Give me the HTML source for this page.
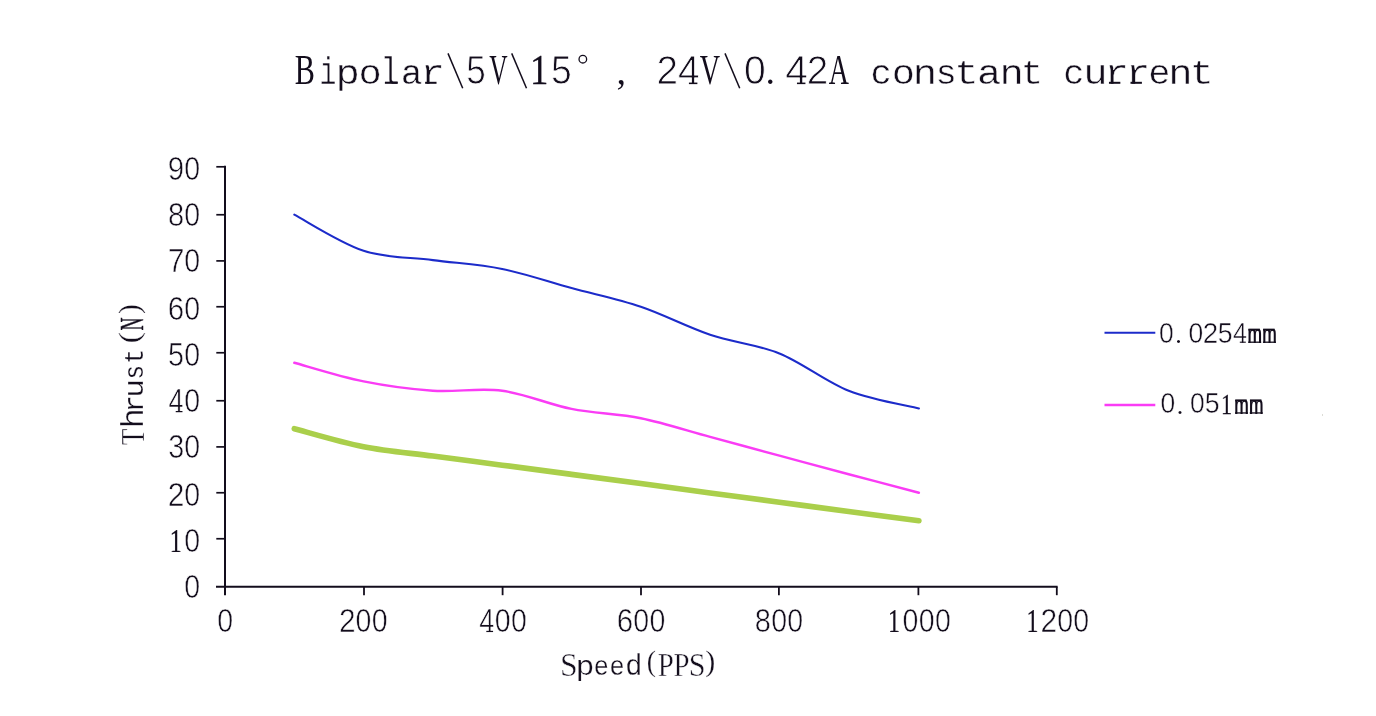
<!DOCTYPE html>
<html><head><meta charset="utf-8"><title>Chart</title>
<style>
html,body{margin:0;padding:0;background:#fff;}
body{width:1376px;height:716px;overflow:hidden;font-family:"Liberation Serif",serif;}
svg{display:block;will-change:transform}
text{fill:#130d1c}
</style></head><body>
<svg width="1376" height="716" viewBox="0 0 1376 716" role="img" aria-label="Thrust (N) versus Speed (PPS) line chart">
<desc>Bipolar\5V\15°, 24V\0.42A constant current. Thrust(N) against Speed(PPS) for lead 0.0254mm, 0.051mm and a third unlabelled series.</desc>
<rect width="1376" height="716" fill="#fff"/>
<g stroke="#130d1c" stroke-width="2" fill="none" stroke-linecap="butt">
<path d="M225.0 165.8V595.3"/>
<path d="M216 586.7H1057.6"/>
<path d="M216.3 538.75H225.0" stroke-width="1.7"/>
<path d="M216.3 492.75H225.0" stroke-width="1.7"/>
<path d="M216.3 446.90H225.0" stroke-width="1.7"/>
<path d="M216.3 400.75H225.0" stroke-width="1.7"/>
<path d="M216.3 352.75H225.0" stroke-width="1.7"/>
<path d="M216.3 306.75H225.0" stroke-width="1.7"/>
<path d="M216.3 260.90H225.0" stroke-width="1.7"/>
<path d="M216.3 214.75H225.0" stroke-width="1.7"/>
<path d="M216.3 166.80H225.0" stroke-width="1.7"/>
<path d="M364.00 586.7V595.2" stroke-width="1.8"/>
<path d="M502.60 586.7V595.2" stroke-width="1.8"/>
<path d="M641.00 586.7V595.2" stroke-width="1.8"/>
<path d="M778.90 586.7V595.2" stroke-width="1.8"/>
<path d="M918.40 586.7V595.2" stroke-width="1.8"/>
<path d="M1056.80 586.7V595.2" stroke-width="1.8"/>
</g>
<path d="M294.30 428.72C305.85 431.73 340.50 442.18 363.60 446.73C386.70 451.29 409.80 452.99 432.90 456.06C456.00 459.14 479.10 462.11 502.20 465.16C525.30 468.21 548.40 471.28 571.50 474.35C594.60 477.42 617.70 480.50 640.80 483.59C663.90 486.69 687.00 489.81 710.10 492.92C733.20 496.03 756.30 499.16 779.40 502.25C802.50 505.35 825.45 508.40 848.70 511.49C871.95 514.58 907.20 519.23 918.90 520.78" fill="none" stroke="#aacf4b" stroke-width="5.6" stroke-linecap="round" stroke-linejoin="round"/>
<path d="M294.30 362.75C305.85 365.86 340.50 376.75 363.60 381.42C386.70 386.08 409.80 389.19 432.90 390.75C456.00 392.30 479.10 387.71 502.20 390.75C525.30 393.78 548.40 404.35 571.50 408.94C594.60 413.53 617.70 413.61 640.80 418.27C663.90 422.94 687.00 430.71 710.10 436.94C733.20 443.16 756.30 449.38 779.40 455.60C802.50 461.82 825.45 468.07 848.70 474.26C871.95 480.45 907.20 489.66 918.90 492.74" fill="none" stroke="#fa3cf5" stroke-width="2.4" stroke-linecap="round" stroke-linejoin="round"/>
<path d="M294.30 214.67C305.85 220.69 340.50 243.21 363.60 250.78C386.70 258.35 409.80 257.08 432.90 260.11C456.00 263.14 479.10 264.31 502.20 268.98C525.30 273.64 548.40 281.81 571.50 288.10C594.60 294.40 617.70 298.99 640.80 306.77C663.90 314.54 687.00 326.98 710.10 334.76C733.20 342.54 756.30 344.09 779.40 353.42C802.50 362.75 825.45 381.57 848.70 390.75C871.95 399.92 907.20 405.52 918.90 408.48" fill="none" stroke="#1c2bca" stroke-width="2.1" stroke-linecap="round" stroke-linejoin="round"/>
<g>
<text transform="translate(304.40,83.80) scale(0.709,1.000)" x="-13.78" y="0" font-family="Liberation Serif" font-size="42.6">B</text>
<text transform="translate(328.32,83.80) scale(0.798,1.090)" x="-10.93" y="0" font-family="Liberation Mono" font-size="35.3" stroke="#fff" stroke-width="0.45">i</text>
<text transform="translate(348.00,83.80) scale(1.150,1.000)" x="-10.94" y="0" font-family="Liberation Mono" font-size="35.3" stroke="#fff" stroke-width="0.45">p</text>
<text transform="translate(370.00,83.80) scale(1.098,1.000)" x="-10.57" y="0" font-family="Liberation Mono" font-size="35.3" stroke="#fff" stroke-width="0.45">o</text>
<text transform="translate(391.15,83.80) scale(0.924,1.090)" x="-11.92" y="0" font-family="Liberation Mono" font-size="35.3" stroke="#fff" stroke-width="0.45">l</text>
<path d="M384.90 82.75H397.40" stroke="#130d1c" stroke-width="2.1" fill="none"/>
<text transform="translate(412.20,83.80) scale(1.027,1.000)" x="-11.10" y="0" font-family="Liberation Mono" font-size="35.3" stroke="#fff" stroke-width="0.45">a</text>
<text transform="translate(433.32,83.80) scale(1.150,1.000)" x="-11.09" y="0" font-family="Liberation Mono" font-size="35.3" stroke="#fff" stroke-width="0.45">r</text>
<path d="M425.12 82.80H436.52" stroke="#130d1c" stroke-width="2.0" fill="none"/>
<path d="M448.00 53.4L462.70 88.2" stroke="#130d1c" stroke-width="1.5" fill="none"/>
<text transform="translate(475.95,83.91) scale(0.855,1.000)" x="-11.37" y="0" font-family="Liberation Sans" font-size="41.03107344632769" stroke="#fff" stroke-width="0.85">5</text>
<text transform="translate(498.50,83.80) scale(0.597,1.000)" x="-15.38" y="0" font-family="Liberation Serif" font-size="42.6">V</text>
<path d="M511.70 53.4L526.50 88.2" stroke="#130d1c" stroke-width="1.5" fill="none"/>
<text transform="translate(539.67,83.90) scale(0.860,1.000)" x="-11.28" y="0" font-family="Liberation Serif" font-size="42.72727272727273" stroke="#130d1c" stroke-width="0.25">1</text>
<text transform="translate(561.25,83.91) scale(0.908,1.000)" x="-11.37" y="0" font-family="Liberation Sans" font-size="41.03107344632769" stroke="#fff" stroke-width="0.85">5</text>
<circle cx="582.83" cy="59.2" r="3.8" stroke="#130d1c" stroke-width="1.3" fill="none"/>
<text transform="translate(620.75,83.60) scale(1.000,1.000)" x="-4.28" y="0" font-family="Liberation Serif" font-size="38.0">,</text>
<text transform="translate(667.17,83.91) scale(0.944,1.000)" x="-11.41" y="0" font-family="Liberation Sans" font-size="41.03107344632769" stroke="#fff" stroke-width="0.85">2</text>
<text transform="translate(688.75,83.91) scale(0.943,1.000)" x="-11.28" y="0" font-family="Liberation Sans" font-size="41.03107344632769" stroke="#fff" stroke-width="0.85">4</text><path d="M688.92 83.35H697.38" stroke="#130d1c" stroke-width="1.55" fill="none"/>
<text transform="translate(709.85,83.80) scale(0.661,1.000)" x="-15.38" y="0" font-family="Liberation Serif" font-size="42.6">V</text>
<path d="M725.00 53.4L739.70 88.2" stroke="#130d1c" stroke-width="1.5" fill="none"/>
<text transform="translate(754.83,83.91) scale(0.951,1.000)" x="-11.41" y="0" font-family="Liberation Sans" font-size="41.03107344632769" stroke="#fff" stroke-width="0.85">0</text>
<text transform="translate(770.25,83.60) scale(1.000,1.000)" x="-4.75" y="0" font-family="Liberation Serif" font-size="38.0">.</text>
<text transform="translate(796.55,83.91) scale(0.994,1.000)" x="-11.28" y="0" font-family="Liberation Sans" font-size="41.03107344632769" stroke="#fff" stroke-width="0.85">4</text><path d="M796.96 83.35H805.42" stroke="#130d1c" stroke-width="1.55" fill="none"/>
<text transform="translate(817.60,83.91) scale(0.942,1.000)" x="-11.41" y="0" font-family="Liberation Sans" font-size="41.03107344632769" stroke="#fff" stroke-width="0.85">2</text>
<text transform="translate(838.75,83.80) scale(0.656,1.000)" x="-15.43" y="0" font-family="Liberation Serif" font-size="42.6">A</text>
<text transform="translate(880.90,83.80) scale(1.005,1.000)" x="-10.43" y="0" font-family="Liberation Mono" font-size="35.3" stroke="#fff" stroke-width="0.45">c</text>
<text transform="translate(903.40,83.80) scale(1.098,1.000)" x="-10.57" y="0" font-family="Liberation Mono" font-size="35.3" stroke="#fff" stroke-width="0.45">o</text>
<text transform="translate(924.95,83.80) scale(1.150,1.000)" x="-10.58" y="0" font-family="Liberation Mono" font-size="35.3" stroke="#fff" stroke-width="0.45">n</text>
<text transform="translate(946.10,83.80) scale(1.004,1.000)" x="-10.57" y="0" font-family="Liberation Mono" font-size="35.3" stroke="#fff" stroke-width="0.45">s</text>
<text transform="translate(966.25,83.80) scale(1.150,1.000)" x="-10.40" y="0" font-family="Liberation Mono" font-size="35.3" stroke="#fff" stroke-width="0.45">t</text>
<text transform="translate(989.75,83.80) scale(1.148,1.000)" x="-11.10" y="0" font-family="Liberation Mono" font-size="35.3" stroke="#fff" stroke-width="0.45">a</text>
<text transform="translate(1011.65,83.80) scale(1.150,1.000)" x="-10.58" y="0" font-family="Liberation Mono" font-size="35.3" stroke="#fff" stroke-width="0.45">n</text>
<text transform="translate(1031.55,83.80) scale(1.050,1.000)" x="-10.40" y="0" font-family="Liberation Mono" font-size="35.3" stroke="#fff" stroke-width="0.45">t</text>
<text transform="translate(1073.55,83.80) scale(0.998,1.000)" x="-10.43" y="0" font-family="Liberation Mono" font-size="35.3" stroke="#fff" stroke-width="0.45">c</text>
<text transform="translate(1095.60,83.80) scale(1.150,1.000)" x="-10.69" y="0" font-family="Liberation Mono" font-size="35.3" stroke="#fff" stroke-width="0.45">u</text>
<text transform="translate(1117.15,83.80) scale(1.150,1.000)" x="-11.09" y="0" font-family="Liberation Mono" font-size="35.3" stroke="#fff" stroke-width="0.45">r</text>
<path d="M1108.95 82.80H1120.35" stroke="#130d1c" stroke-width="2.0" fill="none"/>
<text transform="translate(1138.70,83.80) scale(1.150,1.000)" x="-11.09" y="0" font-family="Liberation Mono" font-size="35.3" stroke="#fff" stroke-width="0.45">r</text>
<path d="M1130.50 82.80H1141.90" stroke="#130d1c" stroke-width="2.0" fill="none"/>
<text transform="translate(1159.35,83.80) scale(1.049,1.000)" x="-10.57" y="0" font-family="Liberation Mono" font-size="35.3" stroke="#fff" stroke-width="0.45">e</text>
<text transform="translate(1180.45,83.80) scale(1.150,1.000)" x="-10.58" y="0" font-family="Liberation Mono" font-size="35.3" stroke="#fff" stroke-width="0.45">n</text>
<text transform="translate(1201.70,83.80) scale(1.116,1.000)" x="-10.40" y="0" font-family="Liberation Mono" font-size="35.3" stroke="#fff" stroke-width="0.45">t</text>
</g>
<g>
<text transform="translate(192.20,597.92) scale(0.874,1.000)" x="-9.07" y="0" font-family="Liberation Sans" font-size="32.6271186440678" stroke="#fff" stroke-width="0.6">0</text>
<text transform="translate(192.20,552.12) scale(0.874,1.000)" x="-9.07" y="0" font-family="Liberation Sans" font-size="32.6271186440678" stroke="#fff" stroke-width="0.6">0</text>
<text transform="translate(176.03,552.15) scale(0.702,1.000)" x="-9.00" y="0" font-family="Liberation Serif" font-size="34.090909090909086" stroke="#130d1c" stroke-width="0.25">1</text>
<text transform="translate(192.20,506.22) scale(0.874,1.000)" x="-9.07" y="0" font-family="Liberation Sans" font-size="32.6271186440678" stroke="#fff" stroke-width="0.6">0</text>
<text transform="translate(176.03,506.22) scale(0.918,1.000)" x="-9.07" y="0" font-family="Liberation Sans" font-size="32.6271186440678" stroke="#fff" stroke-width="0.6">2</text>
<text transform="translate(192.20,458.02) scale(0.874,1.000)" x="-9.07" y="0" font-family="Liberation Sans" font-size="32.6271186440678" stroke="#fff" stroke-width="0.6">0</text>
<text transform="translate(176.03,458.02) scale(0.881,1.000)" x="-8.98" y="0" font-family="Liberation Sans" font-size="32.6271186440678" stroke="#fff" stroke-width="0.6">3</text>
<text transform="translate(192.20,412.12) scale(0.874,1.000)" x="-9.07" y="0" font-family="Liberation Sans" font-size="32.6271186440678" stroke="#fff" stroke-width="0.6">0</text>
<text transform="translate(176.03,412.12) scale(0.827,1.000)" x="-8.97" y="0" font-family="Liberation Sans" font-size="32.6271186440678" stroke="#fff" stroke-width="0.6">4</text><path d="M175.72 411.60H182.47" stroke="#130d1c" stroke-width="1.24" fill="none"/>
<text transform="translate(192.20,366.02) scale(0.874,1.000)" x="-9.07" y="0" font-family="Liberation Sans" font-size="32.6271186440678" stroke="#fff" stroke-width="0.6">0</text>
<text transform="translate(176.03,366.02) scale(0.881,1.000)" x="-9.04" y="0" font-family="Liberation Sans" font-size="32.6271186440678" stroke="#fff" stroke-width="0.6">5</text>
<text transform="translate(192.20,320.12) scale(0.874,1.000)" x="-9.07" y="0" font-family="Liberation Sans" font-size="32.6271186440678" stroke="#fff" stroke-width="0.6">0</text>
<text transform="translate(176.03,320.12) scale(0.906,1.000)" x="-9.18" y="0" font-family="Liberation Sans" font-size="32.6271186440678" stroke="#fff" stroke-width="0.6">6</text>
<text transform="translate(192.20,272.02) scale(0.874,1.000)" x="-9.07" y="0" font-family="Liberation Sans" font-size="32.6271186440678" stroke="#fff" stroke-width="0.6">0</text>
<text transform="translate(176.03,272.02) scale(0.920,1.000)" x="-9.09" y="0" font-family="Liberation Sans" font-size="32.6271186440678" stroke="#fff" stroke-width="0.6">7</text>
<text transform="translate(192.20,226.12) scale(0.874,1.000)" x="-9.07" y="0" font-family="Liberation Sans" font-size="32.6271186440678" stroke="#fff" stroke-width="0.6">0</text>
<text transform="translate(176.03,226.12) scale(0.891,1.000)" x="-9.07" y="0" font-family="Liberation Sans" font-size="32.6271186440678" stroke="#fff" stroke-width="0.6">8</text>
<text transform="translate(192.20,179.72) scale(0.874,1.000)" x="-9.07" y="0" font-family="Liberation Sans" font-size="32.6271186440678" stroke="#fff" stroke-width="0.6">0</text>
<text transform="translate(176.03,179.72) scale(0.905,1.000)" x="-9.06" y="0" font-family="Liberation Sans" font-size="32.6271186440678" stroke="#fff" stroke-width="0.6">9</text>
<text transform="translate(225.20,631.97) scale(0.874,1.000)" x="-9.07" y="0" font-family="Liberation Sans" font-size="32.6271186440678" stroke="#fff" stroke-width="0.6">0</text>
<text transform="translate(347.33,631.97) scale(0.918,1.000)" x="-9.07" y="0" font-family="Liberation Sans" font-size="32.6271186440678" stroke="#fff" stroke-width="0.6">2</text>
<text transform="translate(363.50,631.97) scale(0.874,1.000)" x="-9.07" y="0" font-family="Liberation Sans" font-size="32.6271186440678" stroke="#fff" stroke-width="0.6">0</text>
<text transform="translate(379.67,631.97) scale(0.874,1.000)" x="-9.07" y="0" font-family="Liberation Sans" font-size="32.6271186440678" stroke="#fff" stroke-width="0.6">0</text>
<text transform="translate(486.63,631.97) scale(0.827,1.000)" x="-8.97" y="0" font-family="Liberation Sans" font-size="32.6271186440678" stroke="#fff" stroke-width="0.6">4</text><path d="M486.32 631.45H493.07" stroke="#130d1c" stroke-width="1.24" fill="none"/>
<text transform="translate(502.80,631.97) scale(0.874,1.000)" x="-9.07" y="0" font-family="Liberation Sans" font-size="32.6271186440678" stroke="#fff" stroke-width="0.6">0</text>
<text transform="translate(518.97,631.97) scale(0.874,1.000)" x="-9.07" y="0" font-family="Liberation Sans" font-size="32.6271186440678" stroke="#fff" stroke-width="0.6">0</text>
<text transform="translate(625.03,631.97) scale(0.906,1.000)" x="-9.18" y="0" font-family="Liberation Sans" font-size="32.6271186440678" stroke="#fff" stroke-width="0.6">6</text>
<text transform="translate(641.20,631.97) scale(0.874,1.000)" x="-9.07" y="0" font-family="Liberation Sans" font-size="32.6271186440678" stroke="#fff" stroke-width="0.6">0</text>
<text transform="translate(657.37,631.97) scale(0.874,1.000)" x="-9.07" y="0" font-family="Liberation Sans" font-size="32.6271186440678" stroke="#fff" stroke-width="0.6">0</text>
<text transform="translate(762.93,631.97) scale(0.891,1.000)" x="-9.07" y="0" font-family="Liberation Sans" font-size="32.6271186440678" stroke="#fff" stroke-width="0.6">8</text>
<text transform="translate(779.10,631.97) scale(0.874,1.000)" x="-9.07" y="0" font-family="Liberation Sans" font-size="32.6271186440678" stroke="#fff" stroke-width="0.6">0</text>
<text transform="translate(795.27,631.97) scale(0.874,1.000)" x="-9.07" y="0" font-family="Liberation Sans" font-size="32.6271186440678" stroke="#fff" stroke-width="0.6">0</text>
<text transform="translate(894.35,632.00) scale(0.702,1.000)" x="-9.00" y="0" font-family="Liberation Serif" font-size="34.090909090909086" stroke="#130d1c" stroke-width="0.25">1</text>
<text transform="translate(910.51,631.97) scale(0.874,1.000)" x="-9.07" y="0" font-family="Liberation Sans" font-size="32.6271186440678" stroke="#fff" stroke-width="0.6">0</text>
<text transform="translate(926.69,631.97) scale(0.874,1.000)" x="-9.07" y="0" font-family="Liberation Sans" font-size="32.6271186440678" stroke="#fff" stroke-width="0.6">0</text>
<text transform="translate(942.86,631.97) scale(0.874,1.000)" x="-9.07" y="0" font-family="Liberation Sans" font-size="32.6271186440678" stroke="#fff" stroke-width="0.6">0</text>
<text transform="translate(1032.74,632.00) scale(0.702,1.000)" x="-9.00" y="0" font-family="Liberation Serif" font-size="34.090909090909086" stroke="#130d1c" stroke-width="0.25">1</text>
<text transform="translate(1048.91,631.97) scale(0.918,1.000)" x="-9.07" y="0" font-family="Liberation Sans" font-size="32.6271186440678" stroke="#fff" stroke-width="0.6">2</text>
<text transform="translate(1065.09,631.97) scale(0.874,1.000)" x="-9.07" y="0" font-family="Liberation Sans" font-size="32.6271186440678" stroke="#fff" stroke-width="0.6">0</text>
<text transform="translate(1081.26,631.97) scale(0.874,1.000)" x="-9.07" y="0" font-family="Liberation Sans" font-size="32.6271186440678" stroke="#fff" stroke-width="0.6">0</text>
</g>
<g>
<text transform="translate(568.83,675.60) scale(0.954,1.000)" x="-9.34" y="0" font-family="Liberation Serif" font-size="33.3" stroke="#fff" stroke-width="0.45">S</text>
<text transform="translate(585.38,675.40) scale(1.178,1.000)" x="-8.30" y="0" font-family="Liberation Mono" font-size="26.8" stroke="#fff" stroke-width="0.25">p</text>
<text transform="translate(601.20,675.40) scale(0.941,1.000)" x="-8.03" y="0" font-family="Liberation Mono" font-size="26.8" stroke="#fff" stroke-width="0.25">e</text>
<text transform="translate(617.10,675.40) scale(0.941,1.000)" x="-8.03" y="0" font-family="Liberation Mono" font-size="26.8" stroke="#fff" stroke-width="0.25">e</text>
<text transform="translate(633.50,675.40) scale(1.071,1.100)" x="-7.77" y="0" font-family="Liberation Mono" font-size="26.8" stroke="#fff" stroke-width="0.25">d</text>
<text transform="translate(651.55,670.80) scale(0.919,1.000)" x="-5.21" y="0" font-family="Liberation Serif" font-size="30.2" stroke="#fff" stroke-width="0.25">(</text>
<text transform="translate(665.62,675.60) scale(0.872,1.000)" x="-9.07" y="0" font-family="Liberation Serif" font-size="33.3" stroke="#fff" stroke-width="0.45">P</text>
<text transform="translate(681.25,675.60) scale(0.868,1.000)" x="-9.07" y="0" font-family="Liberation Serif" font-size="33.3" stroke="#fff" stroke-width="0.45">P</text>
<text transform="translate(697.15,675.60) scale(0.907,1.000)" x="-9.34" y="0" font-family="Liberation Serif" font-size="33.3" stroke="#fff" stroke-width="0.45">S</text>
<text transform="translate(710.00,670.80) scale(0.999,1.000)" x="-4.85" y="0" font-family="Liberation Serif" font-size="30.2" stroke="#fff" stroke-width="0.25">)</text>
</g>
<g transform="translate(143.4,0) rotate(-90)">
<text transform="translate(-436.80,0.20) scale(0.790,1.000)" x="-10.59" y="0" font-family="Liberation Serif" font-size="34.6" stroke="#fff" stroke-width="0.45">T</text>
<text transform="translate(-418.05,0.00) scale(1.200,1.100)" x="-8.44" y="0" font-family="Liberation Mono" font-size="28.0" stroke="#fff" stroke-width="0.25">h</text>
<text transform="translate(-403.35,0.00) scale(1.035,1.000)" x="-8.80" y="0" font-family="Liberation Mono" font-size="28.0" stroke="#fff" stroke-width="0.25">r</text>
<text transform="translate(-388.25,0.00) scale(1.108,1.000)" x="-8.48" y="0" font-family="Liberation Mono" font-size="28.0" stroke="#fff" stroke-width="0.25">u</text>
<text transform="translate(-372.20,0.00) scale(0.870,1.000)" x="-8.39" y="0" font-family="Liberation Mono" font-size="28.0" stroke="#fff" stroke-width="0.25">s</text>
<text transform="translate(-356.50,0.00) scale(0.886,1.000)" x="-8.25" y="0" font-family="Liberation Mono" font-size="28.0" stroke="#fff" stroke-width="0.25">t</text>
<text transform="translate(-337.50,-4.60) scale(1.146,1.000)" x="-5.21" y="0" font-family="Liberation Serif" font-size="30.2" stroke="#fff" stroke-width="0.25">(</text>
<text transform="translate(-323.95,0.00) scale(0.519,1.000)" x="-12.59" y="0" font-family="Liberation Serif" font-size="34.6" stroke="#130d1c" stroke-width="0.5">N</text>
<text transform="translate(-309.20,-4.60) scale(0.986,1.000)" x="-4.85" y="0" font-family="Liberation Serif" font-size="30.2" stroke="#fff" stroke-width="0.25">)</text>
</g>
<path d="M1104.5 332.8H1155.3" stroke="#1c2bca" stroke-width="2" fill="none"/>
<path d="M1104.5 405H1155.3" stroke="#fa3cf5" stroke-width="2.4" fill="none"/>
<g>
<text transform="translate(1166.25,342.71) scale(0.914,1.000)" x="-8.05" y="0" font-family="Liberation Sans" font-size="28.954802259887007" stroke="#fff" stroke-width="0.5">0</text>
<text transform="translate(1178.39,342.75) scale(1.000,1.000)" x="-3.25" y="0" font-family="Liberation Serif" font-size="26.0">.</text>
<text transform="translate(1195.73,342.71) scale(0.914,1.000)" x="-8.05" y="0" font-family="Liberation Sans" font-size="28.954802259887007" stroke="#fff" stroke-width="0.5">0</text>
<text transform="translate(1210.47,342.71) scale(0.961,1.000)" x="-8.05" y="0" font-family="Liberation Sans" font-size="28.954802259887007" stroke="#fff" stroke-width="0.5">2</text>
<text transform="translate(1225.21,342.71) scale(0.922,1.000)" x="-8.02" y="0" font-family="Liberation Sans" font-size="28.954802259887007" stroke="#fff" stroke-width="0.5">5</text>
<text transform="translate(1239.95,342.71) scale(0.866,1.000)" x="-7.96" y="0" font-family="Liberation Sans" font-size="28.954802259887007" stroke="#fff" stroke-width="0.5">4</text><path d="M1239.80 342.20H1245.80" stroke="#130d1c" stroke-width="1.10" fill="none"/>
<text transform="translate(1254.69,342.85) scale(0.968,1.000)" x="-7.76" y="0" font-family="Liberation Mono" font-size="26.0">m</text>
<path d="M1248.39 329.65H1259.89" stroke="#130d1c" stroke-width="2" fill="none"/>
<path d="M1248.19 342.20H1261.19" stroke="#130d1c" stroke-width="1.3" fill="none"/>
<text transform="translate(1269.43,342.85) scale(0.968,1.000)" x="-7.76" y="0" font-family="Liberation Mono" font-size="26.0">m</text>
<path d="M1263.13 329.65H1274.63" stroke="#130d1c" stroke-width="2" fill="none"/>
<path d="M1262.93 342.20H1275.93" stroke="#130d1c" stroke-width="1.3" fill="none"/>
<text transform="translate(1167.80,413.46) scale(0.914,1.000)" x="-8.05" y="0" font-family="Liberation Sans" font-size="28.954802259887007" stroke="#fff" stroke-width="0.5">0</text>
<text transform="translate(1179.94,413.50) scale(1.000,1.000)" x="-3.25" y="0" font-family="Liberation Serif" font-size="26.0">.</text>
<text transform="translate(1197.28,413.46) scale(0.914,1.000)" x="-8.05" y="0" font-family="Liberation Sans" font-size="28.954802259887007" stroke="#fff" stroke-width="0.5">0</text>
<text transform="translate(1212.02,413.46) scale(0.922,1.000)" x="-8.02" y="0" font-family="Liberation Sans" font-size="28.954802259887007" stroke="#fff" stroke-width="0.5">5</text>
<text transform="translate(1226.76,413.50) scale(0.733,1.000)" x="-8.00" y="0" font-family="Liberation Serif" font-size="30.3030303030303" stroke="#130d1c" stroke-width="0.25">1</text>
<text transform="translate(1241.50,413.60) scale(0.968,1.000)" x="-7.76" y="0" font-family="Liberation Mono" font-size="26.0">m</text>
<path d="M1235.20 400.40H1246.70" stroke="#130d1c" stroke-width="2" fill="none"/>
<path d="M1235.00 412.95H1248.00" stroke="#130d1c" stroke-width="1.3" fill="none"/>
<text transform="translate(1256.24,413.60) scale(0.968,1.000)" x="-7.76" y="0" font-family="Liberation Mono" font-size="26.0">m</text>
<path d="M1249.94 400.40H1261.44" stroke="#130d1c" stroke-width="2" fill="none"/>
<path d="M1249.74 412.95H1262.74" stroke="#130d1c" stroke-width="1.3" fill="none"/>
</g>
<rect x="1322" y="414" width="1" height="2" fill="#dcdcd6"/>
</svg></body></html>
